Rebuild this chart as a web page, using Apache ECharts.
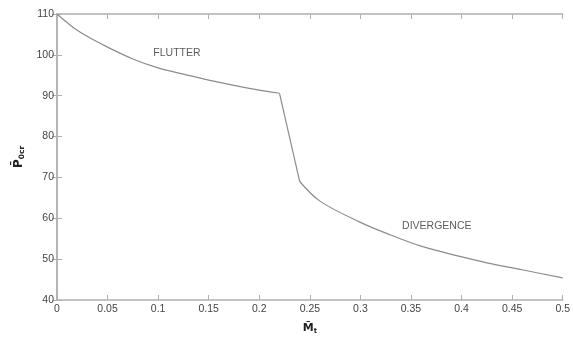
<!DOCTYPE html>
<html>
<head>
<meta charset="utf-8">
<script src="https://cdn.jsdelivr.net/npm/echarts@6/dist/echarts.min.js"></script>
<style>
  html, body { margin: 0; padding: 0; background: #fff; }
  #chart { width: 573px; height: 340px; }
</style>
</head>
<body>
<div id="chart"></div>
<script>
// curve, flutter branch then divergence branch
var flutterM = [0, 0.01, 0.02, 0.035, 0.05, 0.075, 0.1, 0.125, 0.15, 0.19, 0.22];
var flutterP = [110, 107.9, 106.0, 103.8, 101.9, 99.0, 96.8, 95.3, 93.8, 91.8, 90.6];
var divergenceM = [0.24, 0.26, 0.3, 0.33, 0.36, 0.42, 0.46, 0.5];
var divergenceP = [69.0, 64.2, 59.0, 55.9, 53.2, 49.4, 47.4, 45.4];

var regionNames = ["FLUTTER", "DIVERGENCE"];
var regionAt = [[0.1186, 100.5], [0.3755, 58.1]];

var axisGrey = "#b0b0b0";
var textGrey = "#444";
var lineGrey = "#8c8c8c";

var chartDom = document.getElementById("chart");
var myChart = echarts.init(chartDom);

function pairs(xs, ys) {
  return xs.map(function (x, i) { return [x, ys[i]]; });
}
var flutter = pairs(flutterM, flutterP);
var divergence = pairs(divergenceM, divergenceP);
var drop = [flutter[flutter.length - 1], divergence[0]];
var notes = regionNames.map(function (n, i) {
  return { value: regionAt[i], name: n };
});

var xCommon = {
  type: "value",
  min: 0,
  max: 0.5,
  interval: 0.05,
  axisLine: { show: true, lineStyle: { color: axisGrey, width: 1.5 } },
  axisTick: { show: true, inside: true, length: 5, lineStyle: { color: axisGrey } },
  splitLine: { show: false },
};
var yCommon = {
  type: "value",
  min: 40,
  max: 110,
  interval: 10,
  axisLine: { show: true, lineStyle: { color: axisGrey, width: 1.5 } },
  axisTick: { show: true, inside: true, length: 5, lineStyle: { color: axisGrey } },
  splitLine: { show: false },
};

function curveSeries(data, smooth) {
  return {
    type: "line",
    data: data,
    smooth: smooth,
    showSymbol: false,
    lineStyle: { color: lineGrey, width: 1.2 },
  };
}

var option = {
  animation: false,
  grid: { left: 57, right: 10, top: 14, bottom: 37 },
  xAxis: [
    Object.assign({}, xCommon, {
      position: "bottom",
      axisLabel: {
        color: textGrey,
        fontFamily: "Liberation Sans",
        fontSize: 10.5,
        margin: 4,
        formatter: function (v) { return String(+v.toFixed(2)); },
      },
      name: "{b|M\u0304}{s|t}",
      nameLocation: "middle",
      nameGap: 22,
      nameTextStyle: {
        rich: {
          b: { fontFamily: "DejaVu Sans", fontWeight: "bold", fontSize: 11, color: "#222" },
          s: { fontFamily: "DejaVu Sans", fontWeight: "bold", fontSize: 7, color: "#222", padding: [6, 0, 0, 0] },
        },
      },
    }),
    Object.assign({}, xCommon, { position: "top", axisLabel: { show: false } }),
  ],
  yAxis: [
    Object.assign({}, yCommon, {
      position: "left",
      axisLabel: {
        color: textGrey,
        fontFamily: "Liberation Sans",
        fontSize: 10.5,
        margin: 3,
      },
      name: "{b|P\u0304}{s|0cr}",
      nameLocation: "middle",
      nameRotate: 90,
      nameGap: 26,
      nameTextStyle: {
        rich: {
          b: { fontFamily: "DejaVu Sans", fontWeight: "bold", fontSize: 12, color: "#222" },
          s: { fontFamily: "DejaVu Sans", fontWeight: "bold", fontSize: 7.5, color: "#222", padding: [6, 0, 0, 0] },
        },
      },
    }),
    Object.assign({}, yCommon, { position: "right", axisLabel: { show: false } }),
  ],
  series: [
    curveSeries(flutter, 0.35),
    curveSeries(drop, false),
    curveSeries(divergence, 0.35),
    {
      type: "scatter",
      data: notes,
      symbolSize: 0,
      label: {
        show: true,
        position: "inside",
        formatter: "{b}",
        fontFamily: "Liberation Sans",
        fontSize: 10.5,
        color: "#333",
      },
    },
  ],
};

myChart.setOption(option);
window.onresize = function () {
  myChart.resize();
};
</script>
</body>
</html>
